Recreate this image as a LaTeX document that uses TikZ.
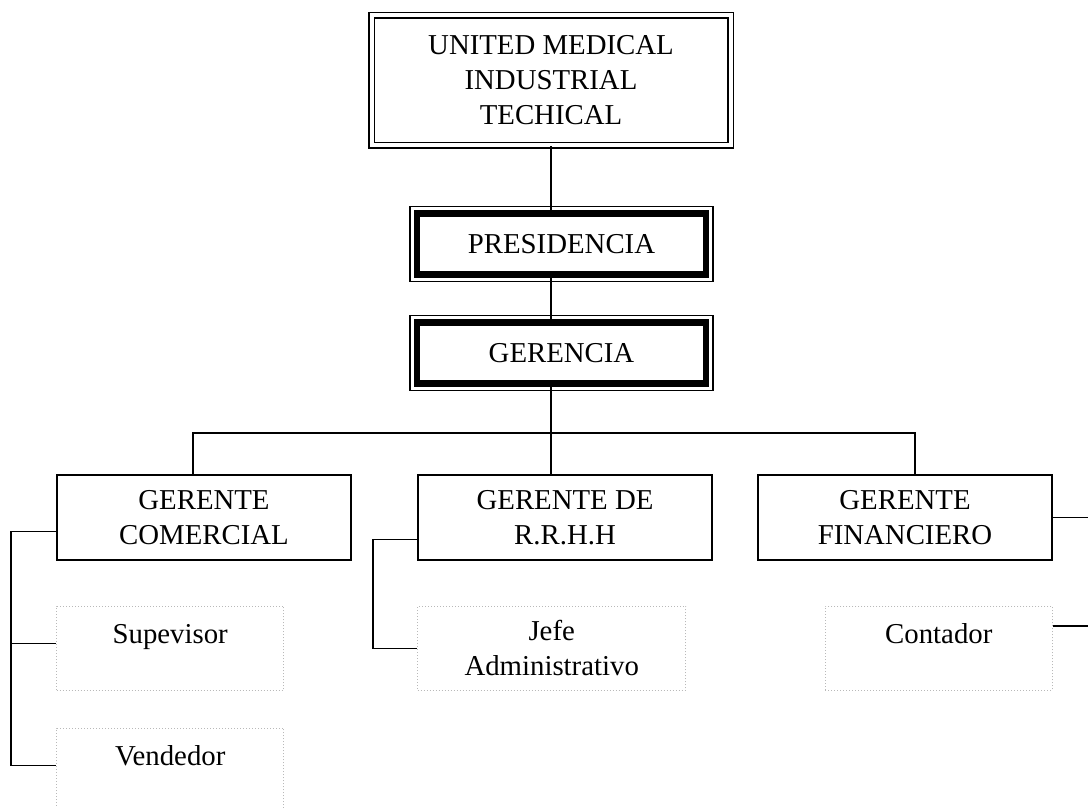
\documentclass[tikz,border=0pt]{standalone}
\usepackage{fontspec}
\setmainfont{Liberation Serif}
\usetikzlibrary{positioning}

\tikzset{
  unitbox/.style={draw, double, double distance=2pt, line width=0.6pt, minimum width=179.5pt, minimum height=65pt, align=center},
  headbox/.style={draw, line width=3.2pt, outer sep=0pt, minimum width=144.5pt, minimum height=30.5pt},
  mgrbox/.style={draw, line width=0.8pt, minimum width=147pt, minimum height=42.5pt, align=center},
  staffbox/.style={draw=gray!55, densely dotted, line width=0.5pt, minimum width=113.5pt, minimum height=42pt, align=center},
  oneline/.style={text height=18.5pt, text depth=23.5pt, inner ysep=0pt},
}

\begin{document}
\begin{tikzpicture}[x=0.5pt, y=-0.5pt, line width=0.8pt, every node/.style={font=\fontsize{14.4}{17.5}\selectfont}]
  \useasboundingbox (0,0) rectangle (1088,808);
  \clip (0,0) rectangle (1088,808);
  % top levels
  \node[unitbox] (umit) at (551,80.5) {UNITED MEDICAL\\INDUSTRIAL\\TECHICAL};
  \node[headbox] (pres) at (561.5,244) {PRESIDENCIA};
  \node[headbox] (ger) at (561.5,353) {GERENCIA};
  \foreach \n in {pres,ger}
    \draw[line width=0.6pt] ([shift={(-3.5pt,3.5pt)}]\n.north west) rectangle ([shift={(3.5pt,-3.5pt)}]\n.south east);
  % managers
  \node[mgrbox] (com) at (204,517.5) {GERENTE\\COMERCIAL};
  \node[mgrbox] (rrhh) at (565,517.5) {GERENTE DE\\R.R.H.H};
  \node[mgrbox] (fin) at (905,517.5) {GERENTE\\FINANCIERO};
  % staff
  \node[staffbox, oneline, anchor=north west] (sup) at ([yshift=-22.5pt]com.south west) {Supevisor};
  \node[staffbox, oneline, below=18.5pt of sup] (vend) {Vendedor};
  \node[staffbox, minimum width=134pt, anchor=north west] (jefe) at ([yshift=-22.5pt]rrhh.south west) {Jefe\\Administrativo};
  \node[staffbox, oneline, anchor=north east] (cont) at ([yshift=-22.5pt]fin.south east) {Contador};
  % connectors
  \coordinate (busL) at (193,433);
  \coordinate (busR) at (915,433);
  \draw (umit.south) -- (pres.north -| umit.south);
  \draw (pres.south -| umit.south) -- (ger.north -| umit.south);
  \draw (ger.south -| umit.south) -- (rrhh.north -| umit.south);
  \draw (com.north -| busL) |- (busR) -- (fin.north -| busR);
  \draw ([yshift=-7pt]com.west) -| ([xshift=-22.5pt]vend.base west) -- (vend.base west);
  \draw (sup.base west) -- ++(-22.5pt,0);
  \draw ([yshift=-11pt]rrhh.west) -| ([xshift=-22pt]jefe.west) -- (jefe.west);
  \draw (fin.east) -- ++(24pt,0) |- ([yshift=-10pt]cont.north east);
\end{tikzpicture}
\end{document}
